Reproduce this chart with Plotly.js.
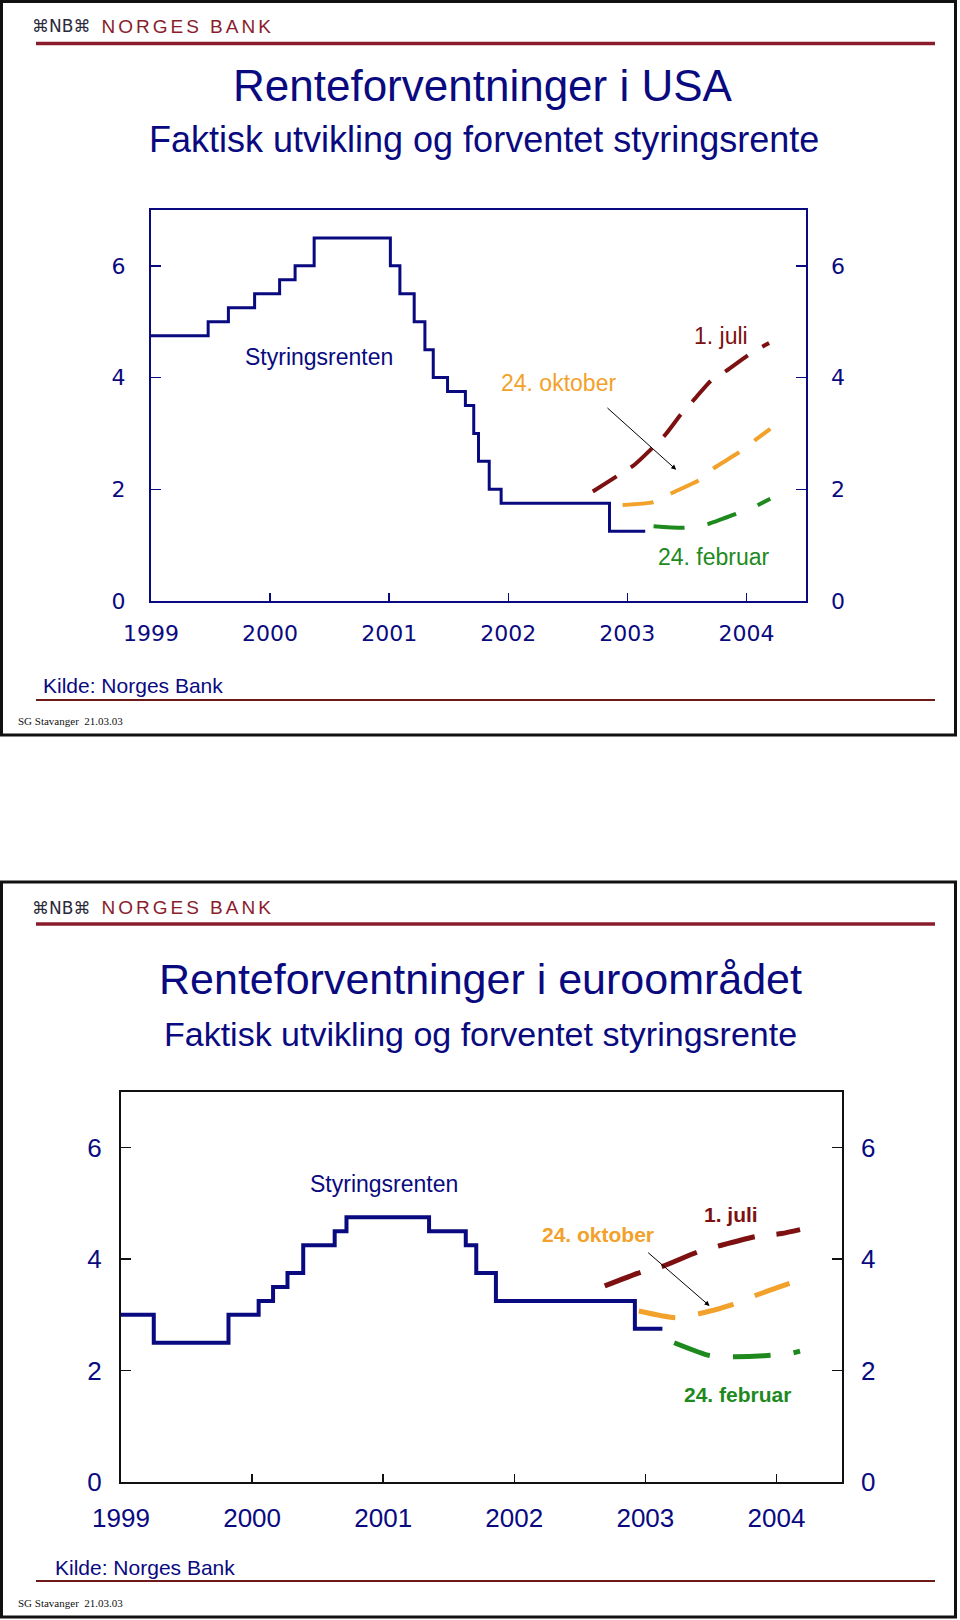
<!DOCTYPE html>
<html>
<head>
<meta charset="utf-8">
<script src="https://cdn.plot.ly/plotly-3.0.1.min.js"></script>
<style>
  html, body { margin: 0; padding: 0; background: #ffffff; }
  #chart { width: 960px; height: 1620px; }
</style>
</head>
<body>
<div id="chart"></div>
<script>
// ---------------- DATA ----------------
const yearTicks = [1999, 2000, 2001, 2002, 2003, 2004];
const yearLabels = ["1999", "2000", "2001", "2002", "2003", "2004"];
const rateTicks = [0, 2, 4, 6];
const rateLabels = ["0", "2", "4", "6"];

// USA – actual policy rate (step changes)
const usDates = [1999.0, 1999.48, 1999.65, 1999.87, 2000.08, 2000.21, 2000.37, 2001.01, 2001.09, 2001.21, 2001.30, 2001.37, 2001.49, 2001.64, 2001.71, 2001.75, 2001.84, 2001.94, 2002.85, 2003.15];
const usRate  = [4.75, 5.0, 5.25, 5.5, 5.75, 6.0, 6.5, 6.0, 5.5, 5.0, 4.5, 4.0, 3.75, 3.5, 3.0, 2.5, 2.0, 1.75, 1.25, 1.25];
// USA – expected rate
const usJulX = [2002.71, 2002.93, 2003.06, 2003.22, 2003.32, 2003.46, 2003.55, 2003.70, 2003.83, 2004.04, 2004.19];
const usJulY = [1.96, 2.26, 2.44, 2.76, 2.98, 3.37, 3.58, 3.94, 4.12, 4.44, 4.62];
const usOctX = [2002.96, 2003.22, 2003.37, 2003.61, 2003.72, 2003.93, 2004.04, 2004.20];
const usOctY = [1.72, 1.77, 1.93, 2.17, 2.37, 2.65, 2.83, 3.08];
const usFebX = [2003.22, 2003.48, 2003.68, 2003.90, 2004.07, 2004.20];
const usFebY = [1.34, 1.31, 1.38, 1.55, 1.69, 1.83];

// Euro area – actual policy rate (step changes)
const euDates = [1999.0, 1999.25, 1999.82, 2000.05, 2000.16, 2000.27, 2000.39, 2000.63, 2000.72, 2001.35, 2001.63, 2001.71, 2001.86, 2002.92, 2003.13];
const euRate  = [3.0, 2.5, 3.0, 3.25, 3.5, 3.75, 4.25, 4.5, 4.75, 4.5, 4.25, 3.75, 3.25, 2.75, 2.75];
// Euro area – expected rate
const euJulX = [2002.69, 2002.97, 2003.13, 2003.40, 2003.58, 2003.85, 2004.04, 2004.18];
const euJulY = [3.52, 3.77, 3.87, 4.13, 4.25, 4.41, 4.46, 4.53];
const euOctX = [2002.95, 2003.23, 2003.41, 2003.67, 2003.83, 2004.12];
const euOctY = [3.07, 2.95, 3.02, 3.19, 3.34, 3.58];
const euFebX = [2003.22, 2003.49, 2003.67, 2003.93, 2004.11, 2004.18];
const euFebY = [2.50, 2.27, 2.25, 2.27, 2.31, 2.35];

// ---------------- STYLE ----------------
const W = 960, H = 1620;
const px = x => x / W;
const py = y => 1 - y / H;
const NAVY = "#0a0a80";
const DARKRED = "#7d1010";
const ORANGE = "#f2a12a";
const GREEN = "#1e8a1e";
const BANKRED = "#8a1c2c";
const SANS = "Liberation Sans, Arial, sans-serif";
const WIDE = "DejaVu Sans, Verdana, sans-serif";

const traces = [
  {x: usDates, y: usRate, xaxis: "x", yaxis: "y", mode: "lines", line: {shape: "hv", color: NAVY, width: 3}},
  {x: usJulX, y: usJulY, xaxis: "x", yaxis: "y", mode: "lines", line: {shape: "spline", smoothing: 0.6, color: DARKRED, width: 4, dash: "28px,17px"}},
  {x: usOctX, y: usOctY, xaxis: "x", yaxis: "y", mode: "lines", line: {shape: "spline", smoothing: 0.6, color: ORANGE, width: 4, dash: "31px,19px"}},
  {x: usFebX, y: usFebY, xaxis: "x", yaxis: "y", mode: "lines", line: {shape: "spline", smoothing: 0.6, color: GREEN, width: 4, dash: "31px,23px"}},
  // carrier for the right-hand tick labels (not visible)
  {x: usDates, y: usRate, xaxis: "x", yaxis: "y3", mode: "lines", opacity: 0, line: {width: 0}, hoverinfo: "skip"},

  {x: euDates, y: euRate, xaxis: "x2", yaxis: "y2", mode: "lines", line: {shape: "hv", color: NAVY, width: 4}},
  {x: euJulX, y: euJulY, xaxis: "x2", yaxis: "y2", mode: "lines", line: {shape: "spline", smoothing: 0.6, color: DARKRED, width: 5, dash: "38px,22px"}},
  {x: euOctX, y: euOctY, xaxis: "x2", yaxis: "y2", mode: "lines", line: {shape: "spline", smoothing: 0.6, color: ORANGE, width: 5, dash: "37px,23px"}},
  {x: euFebX, y: euFebY, xaxis: "x2", yaxis: "y2", mode: "lines", line: {shape: "spline", smoothing: 0.6, color: GREEN, width: 5, dash: "38px,23px"}},
  {x: euDates, y: euRate, xaxis: "x2", yaxis: "y4", mode: "lines", opacity: 0, line: {width: 0}, hoverinfo: "skip"}
];

function xAxis(domain, anchor, font, lineColor, standoff) {
  return {
    domain: domain, anchor: anchor, range: [1999, 2004.5],
    tickmode: "array", tickvals: yearTicks, ticktext: yearLabels,
    ticks: "inside", ticklen: 8, tickwidth: 1.5, tickcolor: lineColor,
    showline: true, linecolor: lineColor, linewidth: 2, mirror: true,
    showgrid: false, zeroline: false, tickfont: font, ticklabelstandoff: standoff,
    fixedrange: true
  };
}
function yAxis(domain, anchor, font, lineColor, standoff) {
  return {
    domain: domain, anchor: anchor, range: [0, 7],
    tickmode: "array", tickvals: rateTicks, ticktext: rateLabels,
    ticks: "inside", ticklen: 10, tickwidth: 1.5, tickcolor: lineColor,
    showline: true, linecolor: lineColor, linewidth: 2, mirror: "ticks",
    showgrid: false, zeroline: false, tickfont: font, ticklabelstandoff: standoff,
    fixedrange: true
  };
}
function yRight(over, anchor, font, standoff) {
  return {
    overlaying: over, anchor: anchor, side: "right", range: [0, 7],
    tickmode: "array", tickvals: rateTicks, ticktext: rateLabels,
    ticks: "", showline: false, showgrid: false, zeroline: false,
    tickfont: font, ticklabelstandoff: standoff, fixedrange: true
  };
}

const f1 = {family: WIDE, size: 22, color: NAVY};
const f2 = {family: SANS, size: 26, color: NAVY};

function slideDecor(top, bottom, redTop, kildeY, redBottom, sgY, logoY, kildeX) {
  const shapes = [
    {type: "rect", xref: "paper", yref: "paper", x0: px(1.5), x1: px(955.5), y0: py(top), y1: py(bottom), line: {color: "#111111", width: 3}},
    {type: "line", xref: "paper", yref: "paper", x0: px(36), x1: px(935), y0: py(redTop), y1: py(redTop), line: {color: BANKRED, width: 3.5}},
    {type: "line", xref: "paper", yref: "paper", x0: px(36), x1: px(935), y0: py(redBottom), y1: py(redBottom), line: {color: "#6e1a1a", width: 2}}
  ];
  const ann = [
    {xref: "paper", yref: "paper", x: px(30), y: py(logoY), xanchor: "left", yanchor: "middle", text: "⌘NB⌘", showarrow: false, font: {family: WIDE, size: 17, color: "#2a2a3a"}},
    {xref: "paper", yref: "paper", x: px(188), y: py(logoY), xanchor: "center", yanchor: "middle", text: "NORGES BANK", showarrow: false, font: {family: SANS, size: 19, color: BANKRED}},
    {xref: "paper", yref: "paper", x: px(kildeX), y: py(kildeY), xanchor: "left", yanchor: "middle", text: "Kilde: Norges Bank", showarrow: false, font: {family: SANS, size: 21, color: NAVY}},
    {xref: "paper", yref: "paper", x: px(16), y: py(sgY), xanchor: "left", yanchor: "middle", text: "SG Stavanger  21.03.03", showarrow: false, font: {family: "Liberation Serif, Times New Roman, serif", size: 11, color: "#111111"}}
  ];
  return {shapes, ann};
}

const d1 = slideDecor(1.5, 735, 43.5, 686, 700, 721, 26, 41);
const d2 = slideDecor(882, 1617, 924, 1567, 1581, 1603, 907.5, 53);

const annotations = [].concat(d1.ann, d2.ann, [
  // Slide 1 titles
  {xref: "paper", yref: "paper", x: px(483), y: py(85), xanchor: "center", yanchor: "middle", text: "Renteforventninger i USA", showarrow: false, font: {family: SANS, size: 44, color: NAVY}},
  {xref: "paper", yref: "paper", x: px(484), y: py(139), xanchor: "center", yanchor: "middle", text: "Faktisk utvikling og forventet styringsrente", showarrow: false, font: {family: SANS, size: 36, color: NAVY}},
  // Slide 1 labels
  {xref: "x", yref: "y", x: 2000.41, y: 4.36, text: "Styringsrenten", showarrow: false, font: {family: SANS, size: 23, color: NAVY}},
  {xref: "x", yref: "y", x: 2003.79, y: 4.75, text: "1. juli", showarrow: false, font: {family: SANS, size: 23, color: DARKRED}},
  {xref: "x", yref: "y", x: 2002.42, y: 3.90, text: "24. oktober", showarrow: false, font: {family: SANS, size: 23, color: ORANGE}},
  {xref: "x", yref: "y", x: 2003.73, y: 0.78, text: "24. februar", showarrow: false, font: {family: SANS, size: 23, color: GREEN}},
  {xref: "x", yref: "y", axref: "x", ayref: "y", x: 2003.41, y: 2.35, ax: 2002.82, ay: 3.48, text: "", showarrow: true, arrowhead: 2, arrowsize: 1, arrowwidth: 1, arrowcolor: "#000000"},
  // Slide 2 titles
  {xref: "paper", yref: "paper", x: px(480), y: py(979), xanchor: "center", yanchor: "middle", text: "Renteforventninger i euroområdet", showarrow: false, font: {family: SANS, size: 43, color: NAVY}},
  {xref: "paper", yref: "paper", x: px(480.5), y: py(1034), xanchor: "center", yanchor: "middle", text: "Faktisk utvikling og forventet styringsrente", showarrow: false, font: {family: SANS, size: 34, color: NAVY}},
  // Slide 2 labels
  {xref: "x2", yref: "y2", x: 2001.01, y: 5.34, text: "Styringsrenten", showarrow: false, font: {family: SANS, size: 23, color: NAVY}},
  {xref: "x2", yref: "y2", x: 2003.65, y: 4.80, text: "<b>1. juli</b>", showarrow: false, font: {family: SANS, size: 21, color: DARKRED}},
  {xref: "x2", yref: "y2", x: 2002.64, y: 4.44, text: "<b>24. oktober</b>", showarrow: false, font: {family: SANS, size: 21, color: ORANGE}},
  {xref: "x2", yref: "y2", x: 2003.70, y: 1.57, text: "<b>24. februar</b>", showarrow: false, font: {family: SANS, size: 21, color: GREEN}},
  {xref: "x2", yref: "y2", axref: "x2", ayref: "y2", x: 2003.49, y: 3.16, ax: 2003.01, ay: 4.14, text: "", showarrow: true, arrowhead: 2, arrowsize: 1, arrowwidth: 1, arrowcolor: "#000000"}
]);

const layout = {
  width: W, height: H,
  margin: {l: 0, r: 0, t: 0, b: 0, pad: 0},
  paper_bgcolor: "#ffffff", plot_bgcolor: "#ffffff",
  showlegend: false,
  xaxis: xAxis([px(151), px(806)], "y", f1, NAVY, 12),
  yaxis: yAxis([py(601), py(210)], "x", f1, NAVY, 19),
  yaxis3: yRight("y", "x", f1, 24),
  xaxis2: xAxis([px(121), px(842)], "y2", f2, "#111111", 12),
  yaxis2: yAxis([py(1482), py(1092)], "x2", f2, "#111111", 12),
  yaxis4: yRight("y2", "x2", f2, 18),
  shapes: [].concat(d1.shapes, d2.shapes),
  annotations: annotations
};

Plotly.newPlot("chart", traces, layout, {staticPlot: true, displayModeBar: false}).then(() => {
  document.querySelectorAll("text.annotation-text").forEach(t => {
    if (t.textContent === "NORGES BANK") t.style.letterSpacing = "3px";
  });
});
</script>
</body>
</html>
